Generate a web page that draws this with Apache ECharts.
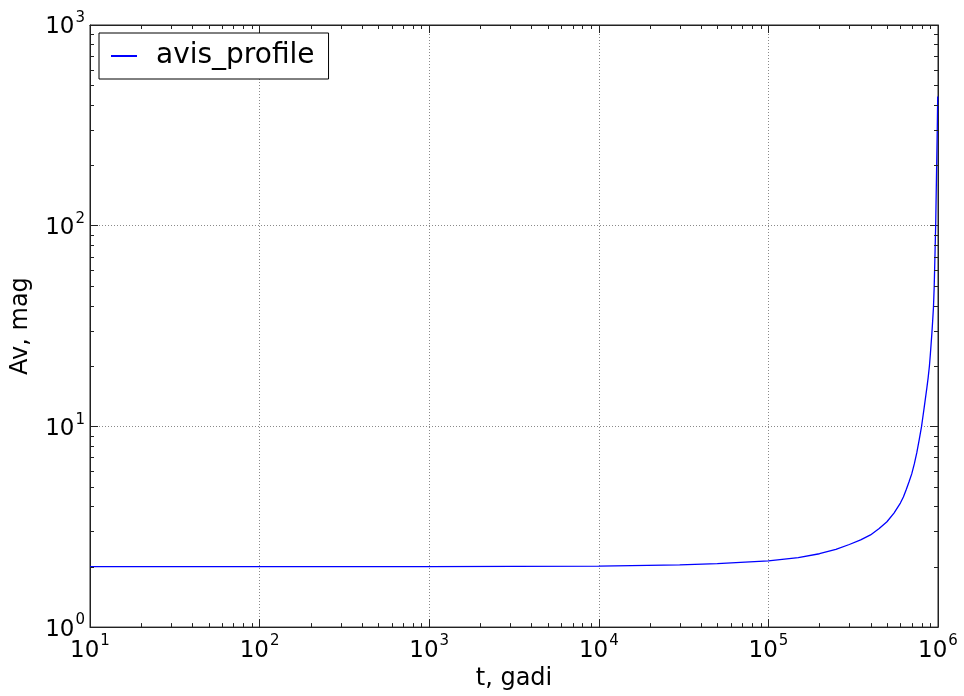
<!DOCTYPE html>
<html><head><meta charset="utf-8">
<script src="https://cdn.jsdelivr.net/npm/echarts@6/dist/echarts.min.js"></script>
<style>html,body{margin:0;padding:0;background:#fff}#c{width:964px;height:696px}</style>
</head><body><div id="c"></div>
<script>
// ---- data ----
const tValues  = [10, 100, 1000, 1e4, 3e4, 5e4, 1e5, 1.5e5, 2e5, 2.5e5, 3e5, 3.5e5, 4e5, 4.5e5, 5e5, 5.5e5, 6e5, 6.25e5, 6.5e5, 6.75e5, 7e5, 7.25e5, 7.5e5, 7.75e5, 8e5, 8.15e5, 8.3e5, 8.45e5, 8.6e5, 8.75e5, 8.9e5, 9e5, 9.1e5, 9.2e5, 9.3e5, 9.4e5, 9.5e5, 9.6e5, 9.7e5, 9.8e5, 9.9e5, 9.96e5];
const avValues = [2.0, 2.0, 2.0, 2.015, 2.04, 2.07, 2.14, 2.22, 2.32, 2.44, 2.58, 2.72, 2.88, 3.1, 3.35, 3.7, 4.15, 4.45, 4.85, 5.3, 5.8, 6.5, 7.4, 8.6, 10, 11.2, 12.5, 14, 15.6, 17.5, 20, 22.5, 25.5, 29, 33.5, 39, 50, 72, 105, 180, 300, 440];
const seriesName = 'avis_profile';
const xMajorTicks = [1e1, 1e2, 1e3, 1e4, 1e5, 1e6];
const yMajorTicks = [1e0, 1e1, 1e2, 1e3];
const minorMultipliers = [2, 3, 4, 5, 6, 7, 8, 9];
const xTitle = 't, gadi';
const yTitle = 'Av, mag';

function minorsBetween(lo, hi) {
  const out = [];
  for (let d = lo; d < hi; d *= 10) minorMultipliers.forEach(m => out.push(m * d));
  return out;
}
const xMinor = minorsBetween(10, 1e6);
const yMinor = minorsBetween(1, 1e3);

const FONT = 'DejaVu Sans';
const rich = {
  b: { fontSize: 23, fontFamily: FONT, color: '#000', lineHeight: 28, verticalAlign: 'bottom' },
  s: { fontSize: 15, fontFamily: FONT, color: '#000', lineHeight: 28, verticalAlign: 'top', padding: [0, 0, 0, 1] }
};
function fmt(v) {
  const e = Math.round(Math.log10(v));
  return '{b|10}{s|' + e + '}';
}

const chart = echarts.init(document.getElementById('c'), null, { renderer: 'canvas' });
const gridLine = { show: true, lineStyle: { color: '#8a8a8a', type: [1, 2], width: 1 } };
const lineData = tValues.map((t, i) => [t, avValues[i]]);

const option = {
  animation: false,
  backgroundColor: '#fff',
  grid: { left: 90, right: 26, top: 25, bottom: 67, show: true, borderColor: '#222', borderWidth: 1, backgroundColor: 'transparent' },
  legend: {
    data: [seriesName], left: 99, top: 33, orient: 'vertical',
    backgroundColor: '#fff', borderColor: '#000', borderWidth: 1, borderRadius: 0,
    padding: [9, 14, 9, 12], itemWidth: 26, itemHeight: 2, icon: 'rect',
    textStyle: { fontSize: 28, fontFamily: FONT, color: '#000', padding: [0, 0, 0, 14] }
  },
  xAxis: [
    { type: 'log', logBase: 10, min: 10, max: 1e6, position: 'bottom',
      name: xTitle, nameLocation: 'middle', nameGap: 33,
      nameTextStyle: { fontSize: 24, fontFamily: FONT, color: '#000' },
      axisLine: { show: true, lineStyle: { color: '#222', width: 1 } },
      axisTick: { show: true, inside: true, length: 8, lineStyle: { color: '#222' } },
      axisLabel: { show: true, margin: 7, formatter: fmt, rich: rich },
      splitLine: gridLine, minorTick: { show: false }, minorSplitLine: { show: false } },
    { type: 'log', logBase: 10, min: 10, max: 1e6, position: 'top',
      axisLine: { show: true, lineStyle: { color: '#222', width: 1 } },
      axisTick: { show: true, inside: true, length: 8, lineStyle: { color: '#222' } },
      axisLabel: { show: false }, splitLine: { show: false } }
  ],
  yAxis: [
    { type: 'log', logBase: 10, min: 1, max: 1000, position: 'left',
      name: yTitle, nameLocation: 'middle', nameGap: 57, nameRotate: 90,
      nameTextStyle: { fontSize: 24, fontFamily: FONT, color: '#000' },
      axisLine: { show: true, lineStyle: { color: '#222', width: 1 } },
      axisTick: { show: true, inside: true, length: 8, lineStyle: { color: '#222' } },
      axisLabel: { show: true, margin: 5, formatter: fmt, rich: rich },
      splitLine: gridLine },
    { type: 'log', logBase: 10, min: 1, max: 1000, position: 'right',
      axisLine: { show: true, lineStyle: { color: '#222', width: 1 } },
      axisTick: { show: true, inside: true, length: 8, lineStyle: { color: '#222' } },
      axisLabel: { show: false }, splitLine: { show: false } }
  ],
  series: [
    { name: seriesName, type: 'line', data: lineData, xAxisIndex: 0, yAxisIndex: 0,
      showSymbol: false, symbol: 'none', smooth: false,
      lineStyle: { color: '#0000ff', width: 1.3 }, itemStyle: { color: '#0000ff' }, z: 5 },
    { name: 'xminor', type: 'custom', xAxisIndex: 0, yAxisIndex: 0, silent: true, clip: false, z: 6,
      data: xMinor.map(v => [v, 1]),
      renderItem: function (params, api) {
        const cs = params.coordSys;
        const x = Math.round(api.coord([api.value(0), 1])[0]) + 0.5;
        const style = { stroke: '#222', lineWidth: 1 };
        return { type: 'group', children: [
          { type: 'line', shape: { x1: x, y1: cs.y + cs.height, x2: x, y2: cs.y + cs.height - 4 }, style: style },
          { type: 'line', shape: { x1: x, y1: cs.y, x2: x, y2: cs.y + 4 }, style: style }
        ]};
      } },
    { name: 'yminor', type: 'custom', xAxisIndex: 0, yAxisIndex: 0, silent: true, clip: false, z: 6,
      data: yMinor.map(v => [10, v]),
      renderItem: function (params, api) {
        const cs = params.coordSys;
        const y = Math.round(api.coord([10, api.value(1)])[1]) + 0.5;
        const style = { stroke: '#222', lineWidth: 1 };
        return { type: 'group', children: [
          { type: 'line', shape: { x1: cs.x, y1: y, x2: cs.x + 4, y2: y }, style: style },
          { type: 'line', shape: { x1: cs.x + cs.width, y1: y, x2: cs.x + cs.width - 4, y2: y }, style: style }
        ]};
      } }
  ]
};
chart.setOption(option);
</script>
</body></html>
